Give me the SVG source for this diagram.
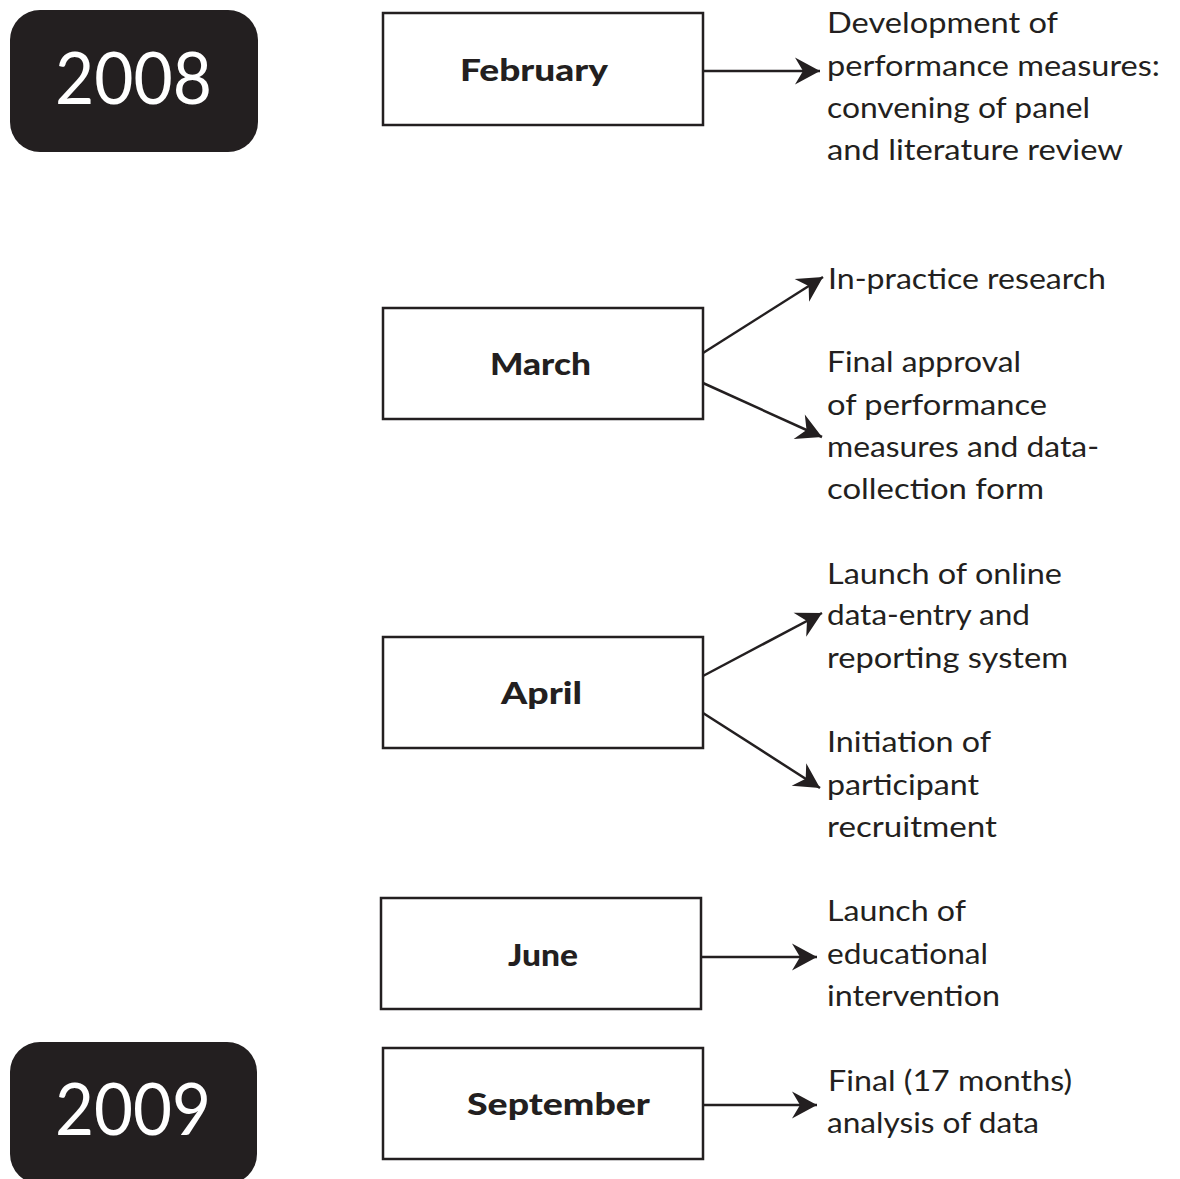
<svg xmlns="http://www.w3.org/2000/svg" width="1180" height="1179" viewBox="0 0 1180 1179">
<defs>
<style>
.yr{fill:#231f20}
.yt{font-family:Lato,"Open Sans",sans-serif;font-size:72px;fill:#fff}
.box{fill:#fff;stroke:#231f20;stroke-width:2.5}
.lbl{font-family:Lato,"Open Sans",sans-serif;font-size:30px;font-weight:900;fill:#231f20}
.txt{font-family:Lato,"Open Sans",sans-serif;font-size:28px;fill:#231f20}
.ar{stroke:#231f20;stroke-width:2.5;fill:none;marker-end:url(#ah)}
</style>
<marker id="ah" markerUnits="userSpaceOnUse" viewBox="-27 -15 29 30" refX="0" refY="0" markerWidth="29" markerHeight="30" orient="auto">
<path d="M0,0 L-25,-13.5 L-17,0 L-25,13.5 Z" fill="#231f20"/>
</marker>
</defs>
<rect width="1180" height="1179" fill="#fff"/>
<g id="year2008"><rect class="yr" x="10" y="10" width="248" height="142" rx="30"/><text class="yt" x="55" y="104" textLength="157" lengthAdjust="spacingAndGlyphs">2008</text></g>
<g id="year2009"><rect class="yr" x="10" y="1042" width="247" height="142" rx="30"/><text class="yt" x="55" y="1135" textLength="156" lengthAdjust="spacingAndGlyphs">2009</text></g>
<g id="february"><rect class="box" x="383" y="13" width="320" height="112"/><text class="lbl" x="460" y="81" textLength="148" lengthAdjust="spacingAndGlyphs">February</text></g>
<g id="march"><rect class="box" x="383" y="308" width="320" height="111"/><text class="lbl" x="490" y="375" textLength="101" lengthAdjust="spacingAndGlyphs">March</text></g>
<g id="april"><rect class="box" x="383" y="637" width="320" height="111"/><text class="lbl" x="501" y="704" textLength="81" lengthAdjust="spacingAndGlyphs">April</text></g>
<g id="june"><rect class="box" x="381" y="898" width="320" height="111"/><text class="lbl" x="508" y="966" textLength="70" lengthAdjust="spacingAndGlyphs">June</text></g>
<g id="september"><rect class="box" x="383" y="1048" width="320" height="111"/><text class="lbl" x="467" y="1115" textLength="183" lengthAdjust="spacingAndGlyphs">September</text></g>
<g id="t-feb">
<text class="txt" x="827" y="33" textLength="231" lengthAdjust="spacingAndGlyphs">Development of</text>
<text class="txt" x="827" y="76" textLength="333" lengthAdjust="spacingAndGlyphs">performance measures:</text>
<text class="txt" x="827" y="118" textLength="263" lengthAdjust="spacingAndGlyphs">convening of panel</text>
<text class="txt" x="827" y="160" textLength="296" lengthAdjust="spacingAndGlyphs">and literature review</text>
</g>
<g id="t-mar1"><text class="txt" x="828" y="289" textLength="278" lengthAdjust="spacingAndGlyphs">In-practice research</text></g>
<g id="t-mar2">
<text class="txt" x="827" y="372" textLength="194" lengthAdjust="spacingAndGlyphs">Final approval</text>
<text class="txt" x="827" y="415" textLength="220" lengthAdjust="spacingAndGlyphs">of performance</text>
<text class="txt" x="827" y="457" textLength="272" lengthAdjust="spacingAndGlyphs">measures and data-</text>
<text class="txt" x="827" y="499" textLength="217" lengthAdjust="spacingAndGlyphs">collection form</text>
</g>
<g id="t-apr1">
<text class="txt" x="827" y="584" textLength="235" lengthAdjust="spacingAndGlyphs">Launch of online</text>
<text class="txt" x="827" y="625" textLength="203" lengthAdjust="spacingAndGlyphs">data-entry and</text>
<text class="txt" x="827" y="668" textLength="241" lengthAdjust="spacingAndGlyphs">reporting system</text>
</g>
<g id="t-apr2">
<text class="txt" x="827" y="752" textLength="164" lengthAdjust="spacingAndGlyphs">Initiation of</text>
<text class="txt" x="827" y="795" textLength="152" lengthAdjust="spacingAndGlyphs">participant</text>
<text class="txt" x="827" y="837" textLength="170" lengthAdjust="spacingAndGlyphs">recruitment</text>
</g>
<g id="t-jun">
<text class="txt" x="827" y="921" textLength="139" lengthAdjust="spacingAndGlyphs">Launch of</text>
<text class="txt" x="827" y="964" textLength="161" lengthAdjust="spacingAndGlyphs">educational</text>
<text class="txt" x="827" y="1006" textLength="173" lengthAdjust="spacingAndGlyphs">intervention</text>
</g>
<g id="t-sep">
<text class="txt" x="828" y="1091" textLength="244" lengthAdjust="spacingAndGlyphs">Final (17 months)</text>
<text class="txt" x="827" y="1133" textLength="212" lengthAdjust="spacingAndGlyphs">analysis of data</text>
</g>
<g id="connectors">
<line class="ar" x1="703" y1="71" x2="820" y2="71"/>
<line class="ar" x1="703" y1="353" x2="823" y2="277"/>
<line class="ar" x1="703" y1="383" x2="822" y2="437"/>
<line class="ar" x1="703" y1="676" x2="822" y2="613"/>
<line class="ar" x1="703" y1="713" x2="820" y2="788"/>
<line class="ar" x1="701" y1="957" x2="817" y2="957"/>
<line class="ar" x1="703" y1="1105" x2="817" y2="1105"/>
</g>
</svg>
